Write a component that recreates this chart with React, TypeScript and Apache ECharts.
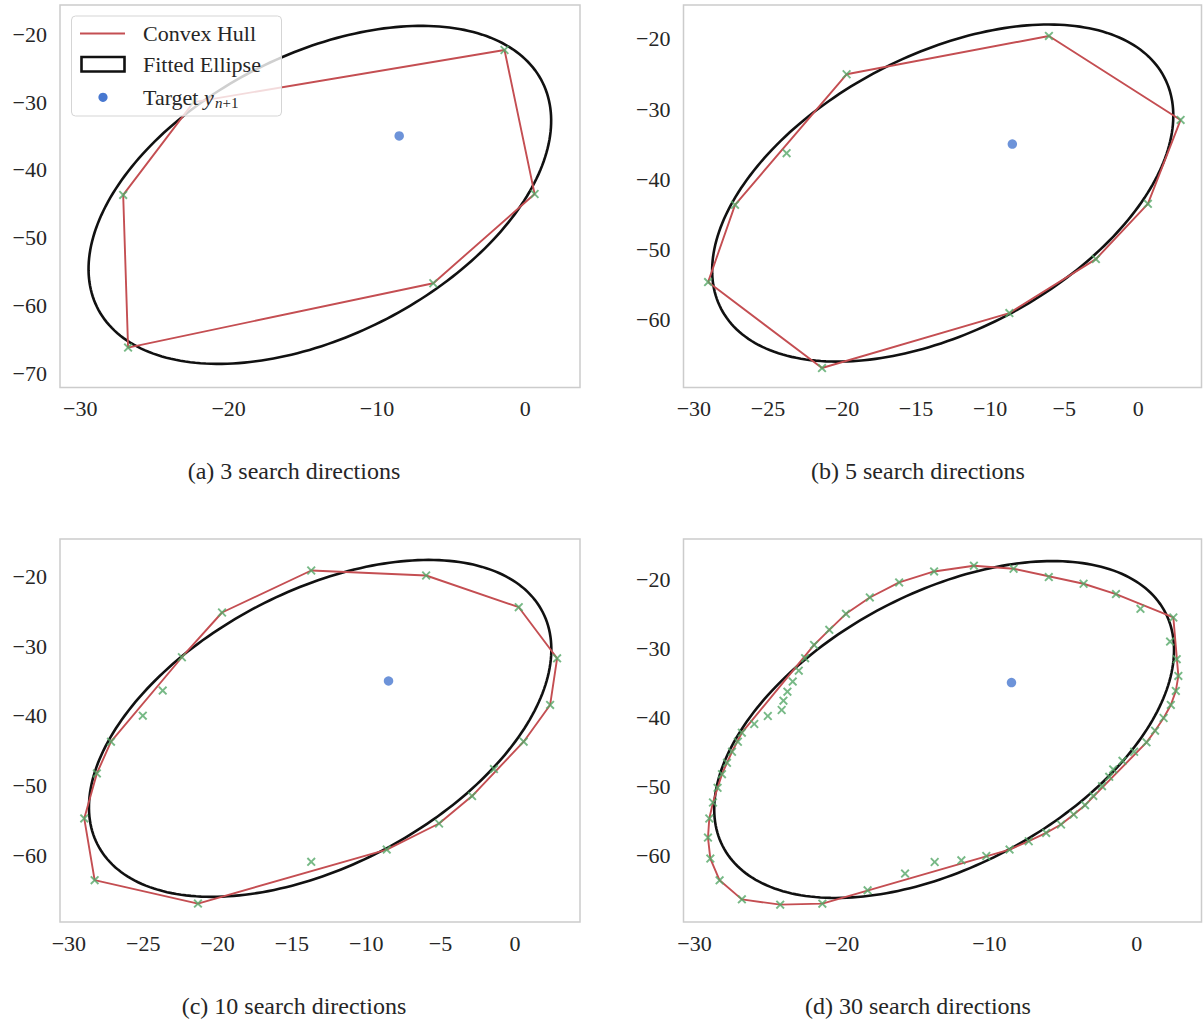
import React, { useEffect, useRef } from "react";
import * as echarts from "echarts";

// ---------- data ----------
const targetPoint = [-8.5, -35.0];

// ellipse parameters: [centerX, centerY, semiMajor, semiMinor, angleDeg]
const ellipseA = [-13.85, -43.7, 26.23, 13.33, 69.0];
const ellipseB = [-13.2, -42.0, 25.52, 13.04, 67.2];
const ellipseC = [-13.1, -41.8, 25.67, 12.94, 67.1];
const ellipseD = [-13.07, -41.8, 25.9, 12.95, 67.2];

const pointsA = [
  [-1.4, -22.31], [0.63, -43.57], [-6.2, -56.75], [-26.78, -66.25], [-27.11, -43.71], [-22.36, -30.0],
];

const pointsB = [
  [-6.03, -19.57], [2.86, -31.56], [0.65, -43.54], [-2.86, -51.43], [-8.7, -59.13],
  [-21.35, -66.98], [-29.04, -54.71], [-27.22, -43.68], [-23.74, -36.31], [-19.69, -25.04],
];

const pointsC = [
  [-13.7, -19.14], [-5.97, -19.86], [0.26, -24.41], [2.84, -31.74], [2.37, -38.44],
  [0.59, -43.71], [-1.41, -47.64], [-2.88, -51.52], [-5.1, -55.45], [-8.62, -59.19],
  [-13.7, -60.96], [-21.32, -66.95], [-28.27, -63.59], [-28.97, -54.73], [-28.12, -48.26],
  [-27.17, -43.71], [-25.03, -39.98], [-23.69, -36.38], [-22.4, -31.59], [-19.7, -25.17],
];

const pointsD = [
  [-13.75, -18.9], [-11.05, -18.07], [-8.36, -18.51], [-5.97, -19.71], [-3.61, -20.68],
  [-1.41, -22.18], [0.25, -24.31], [2.48, -25.57],
  [2.26, -29.06], [2.71, -31.61], [2.82, -34.03], [2.65, -36.21], [2.31, -38.24],
  [1.82, -40.13], [1.24, -41.97], [0.66, -43.66], [-0.18, -45.02], [-0.97, -46.33],
  [-1.6, -47.58], [-1.87, -48.65], [-2.36, -50.0], [-2.95, -51.41], [-3.51, -52.76],
  [-4.28, -54.11], [-5.14, -55.56], [-6.15, -56.78], [-7.33, -57.98], [-8.63, -59.19],
  [-10.21, -60.12], [-11.9, -60.74], [-13.71, -60.99], [-15.72, -62.67], [-18.26, -65.09],
  [-21.33, -67.02], [-24.19, -67.17], [-26.79, -66.4], [-28.3, -63.64], [-28.93, -60.49],
  [-29.09, -57.45],
  [-29.0, -54.69], [-28.75, -52.37], [-28.44, -50.25], [-28.14, -48.26], [-27.8, -46.62],
  [-27.46, -45.02], [-27.06, -43.57], [-26.79, -42.26], [-25.95, -41.0], [-25.03, -39.84],
  [-24.09, -38.97], [-23.97, -37.62], [-23.7, -36.31], [-23.34, -34.86], [-22.93, -33.27],
  [-22.5, -31.47], [-21.89, -29.54], [-20.86, -27.36], [-19.73, -25.04], [-18.11, -22.67],
  [-16.12, -20.49],
];

const xTicksA = [-30, -20, -10, 0];
const xTicksB = [-30, -25, -20, -15, -10, -5, 0];
const xTicksC = [-30, -25, -20, -15, -10, -5, 0];
const xTicksD = [-30, -20, -10, 0];
const yTicksA = [-70, -60, -50, -40, -30, -20];
const yTicksB = [-60, -50, -40, -30, -20];
const yTicksC = [-60, -50, -40, -30, -20];
const yTicksD = [-60, -50, -40, -30, -20];

const xRangeA = [-31.37, 3.69];
const yRangeA = [-72.14, -15.67];
const xRangeB = [-30.7, 4.27];
const yRangeB = [-69.76, -15.15];
const xRangeC = [-30.6, 4.38];
const yRangeC = [-69.59, -14.62];
const xRangeD = [-30.75, 4.39];
const yRangeD = [-69.68, -14.2];

const captions = ["(a) 3 search directions", "(b) 5 search directions", "(c) 10 search directions", "(d) 30 search directions"];
const legendLabels = ["Convex Hull", "Fitted Ellipse", "Target"];

// ---------- helpers ----------
const FONT = '"Liberation Serif", "Times New Roman", serif';
const TEXT = "#262626";
const RED = "#c44e52";
const GREEN = "#55a868";
const BLUE = "#4878d0";
const XSYM = "path://M0,1.5L1.5,0L5,3.5L8.5,0L10,1.5L6.5,5L10,8.5L8.5,10L5,6.5L1.5,10L0,8.5L3.5,5Z";

function convexHull(pts: number[][]): number[][] {
  const p = pts.slice().sort((a, b) => (a[0] - b[0]) || (a[1] - b[1]));
  const cross = (o: number[], a: number[], b: number[]) => (a[0] - o[0]) * (b[1] - o[1]) - (a[1] - o[1]) * (b[0] - o[0]);
  const lower: number[][] = [];
  for (const q of p) {
    while (lower.length >= 2 && cross(lower[lower.length - 2], lower[lower.length - 1], q) <= 0) lower.pop();
    lower.push(q);
  }
  const upper: number[][] = [];
  for (let i = p.length - 1; i >= 0; i--) {
    const q = p[i];
    while (upper.length >= 2 && cross(upper[upper.length - 2], upper[upper.length - 1], q) <= 0) upper.pop();
    upper.push(q);
  }
  upper.pop();
  lower.pop();
  const h = lower.concat(upper);
  return h.concat([h[0]]);
}

const fmt = (v: number) => (v < 0 ? "\u2212" + Math.abs(v) : String(v));

function axisCfg(idx: number, range: number[], ticks: number[], isX: boolean) {
  return {
    type: "value",
    gridIndex: idx,
    min: range[0],
    max: range[1],
    axisLine: { show: false },
    axisTick: { show: false },
    splitLine: { show: false },
    axisLabel: {
      customValues: ticks,
      formatter: fmt,
      fontFamily: FONT,
      fontSize: 22,
      color: TEXT,
      margin: isX ? 10 : 13,
    },
  };
}

function panelSeries(idx: number, ellipse: number[], pts: number[][]) {
  return [
    {
      type: "custom",
      xAxisIndex: idx,
      yAxisIndex: idx,
      z: 2,
      silent: true,
      data: [ellipse],
      encode: { x: 0, y: 1 },
      renderItem: (params: any, api: any) => {
        const cx = api.value(0), cy = api.value(1), a = api.value(2), b = api.value(3);
        const ang = (api.value(4) * Math.PI) / 180;
        const pts2: number[][] = [];
        const n = 240;
        for (let i = 0; i < n; i++) {
          const t = (i / n) * Math.PI * 2;
          const x = cx + a * Math.cos(t) * Math.cos(ang) - b * Math.sin(t) * Math.sin(ang);
          const y = cy + a * Math.cos(t) * Math.sin(ang) + b * Math.sin(t) * Math.cos(ang);
          pts2.push(api.coord([x, y]));
        }
        return {
          type: "polygon",
          shape: { points: pts2 },
          style: { fill: "none", stroke: "#111111", lineWidth: 2.6 },
        };
      },
    },
    {
      type: "line",
      name: "Convex Hull",
      xAxisIndex: idx,
      yAxisIndex: idx,
      z: 3,
      symbol: "none",
      silent: true,
      lineStyle: { color: RED, width: 1.9 },
      data: convexHull(pts),
    },
    {
      type: "scatter",
      xAxisIndex: idx,
      yAxisIndex: idx,
      z: 4,
      symbol: XSYM,
      symbolSize: 9,
      silent: true,
      itemStyle: { color: GREEN },
      data: pts,
    },
    {
      type: "scatter",
      name: "Target",
      xAxisIndex: idx,
      yAxisIndex: idx,
      z: 5,
      symbol: "circle",
      symbolSize: 9.5,
      silent: true,
      itemStyle: { color: BLUE },
      data: [targetPoint],
    },
  ];
}

export default function App() {
  const ref = useRef<HTMLDivElement>(null);
  useEffect(() => {
    if (!ref.current) return;
    const chart = echarts.init(ref.current, undefined, { renderer: "svg" });
    const gridStyle = { show: true, borderColor: "#cccccc", borderWidth: 1.5, backgroundColor: "transparent" };
    const option: any = {
      animation: false,
      backgroundColor: "#ffffff",
      grid: [
        { left: 60, top: 5, width: 520, height: 382.5, ...gridStyle },
        { left: 683.5, top: 5, width: 518, height: 382.5, ...gridStyle },
        { left: 60, top: 539, width: 520, height: 383, ...gridStyle },
        { left: 683.5, top: 539, width: 518, height: 383, ...gridStyle },
      ],
      xAxis: [
        axisCfg(0, xRangeA, xTicksA, true),
        axisCfg(1, xRangeB, xTicksB, true),
        axisCfg(2, xRangeC, xTicksC, true),
        axisCfg(3, xRangeD, xTicksD, true),
      ],
      yAxis: [
        axisCfg(0, yRangeA, yTicksA, false),
        axisCfg(1, yRangeB, yTicksB, false),
        axisCfg(2, yRangeC, yTicksC, false),
        axisCfg(3, yRangeD, yTicksD, false),
      ],
      series: [
        ...panelSeries(0, ellipseA, pointsA),
        ...panelSeries(1, ellipseB, pointsB),
        ...panelSeries(2, ellipseC, pointsC),
        ...panelSeries(3, ellipseD, pointsD),
      ],
      graphic: [
        // captions
        ...captions.map((c, i) => ({
          type: "text",
          x: i % 2 === 0 ? 294 : 918,
          y: i < 2 ? 471 : 1006,
          style: { text: c, fontFamily: FONT, fontSize: 24, fill: TEXT, textAlign: "center", textVerticalAlign: "middle" },
        })),
        // legend
        {
          type: "rect",
          z: 100,
          shape: { x: 71.5, y: 16, width: 210, height: 100, r: 4 },
          style: { fill: "rgba(255,255,255,0.8)", stroke: "#d5d5d5", lineWidth: 1 },
        },
        {
          type: "line",
          z: 101,
          shape: { x1: 80, y1: 33.5, x2: 125, y2: 33.5 },
          style: { stroke: RED, lineWidth: 1.9 },
        },
        {
          type: "rect",
          z: 101,
          shape: { x: 81.5, y: 57, width: 43, height: 14.5 },
          style: { fill: "#ffffff", stroke: "#111111", lineWidth: 2.6 },
        },
        {
          type: "circle",
          z: 101,
          shape: { cx: 103, cy: 97.3, r: 4.6 },
          style: { fill: BLUE },
        },
        {
          type: "text",
          z: 101,
          x: 143,
          y: 33.5,
          style: { text: legendLabels[0], fontFamily: FONT, fontSize: 22, fill: TEXT, textVerticalAlign: "middle" },
        },
        {
          type: "text",
          z: 101,
          x: 143,
          y: 64.5,
          style: { text: legendLabels[1], fontFamily: FONT, fontSize: 22, fill: TEXT, textVerticalAlign: "middle" },
        },
        {
          type: "text",
          z: 101,
          x: 143,
          y: 97,
          style: { text: legendLabels[2], fontFamily: FONT, fontSize: 22, fill: TEXT, textVerticalAlign: "middle" },
        },
        {
          type: "text",
          z: 101,
          x: 204,
          y: 97,
          style: { text: "y", fontFamily: FONT, fontSize: 22, fontStyle: "italic", fill: TEXT, textVerticalAlign: "middle" },
        },
        {
          type: "text",
          z: 101,
          x: 215,
          y: 103,
          style: {
            text: "{i|n}{r|+1}",
            fontFamily: FONT,
            fontSize: 15,
            fill: TEXT,
            textVerticalAlign: "middle",
            rich: {
              i: { fontFamily: FONT, fontSize: 15, fontStyle: "italic", fill: TEXT },
              r: { fontFamily: FONT, fontSize: 15, fill: TEXT },
            },
          },
        },
      ],
    };
    chart.setOption(option);
    return () => chart.dispose();
  }, []);
  return (
    <div
      ref={ref}
      style={{ position: "absolute", left: 0, top: 0, width: 1203, height: 1019, background: "#fff" }}
    />
  );
}
